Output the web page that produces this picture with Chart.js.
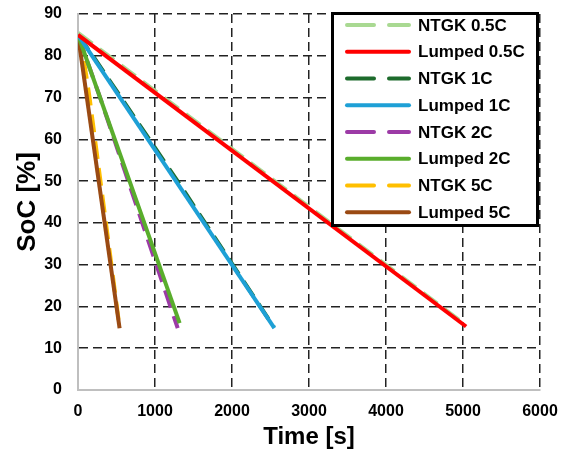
<!DOCTYPE html>
<html>
<head>
<meta charset="utf-8">
<script src="https://cdn.jsdelivr.net/npm/chart.js@4"></script>
<style>
  html, body { margin: 0; padding: 0; background: #fff; }
</style>
</head>
<body>
<canvas id="socChart" width="562" height="449"></canvas>
<script>
const labels = ["NTGK 0.5C", "Lumped 0.5C", "NTGK 1C", "Lumped 1C", "NTGK 2C", "Lumped 2C", "NTGK 5C", "Lumped 5C"];
const colors = ["#a9d992", "#ff0000", "#1d6b2c", "#1ea0d6", "#9c3aa6", "#59ad2c", "#ffbf00", "#9a4a13"];

// time [s] and SoC [%]
const ntgk05Time = [0, 5040];
const ntgk05Soc = [85.5, 15.5];
const lumped05Time = [0, 5040];
const lumped05Soc = [85, 15.2];
const ntgk1Time = [0, 200, 1300, 2545];
const ntgk1Soc = [85, 79.8, 49.8, 15];
const lumped1Time = [0, 2550];
const lumped1Soc = [85, 14.8];
const ntgk2Time = [0, 300, 1295];
const ntgk2Soc = [85, 69.3, 14.8];
const lumped2Time = [0, 1320];
const lumped2Soc = [85, 16];
const ntgk5Time = [0, 40, 150, 540];
const ntgk5Soc = [85, 83.5, 70, 15];
const lumped5Time = [0, 540];
const lumped5Soc = [85, 14.8];

const xTicks = [0, 1000, 2000, 3000, 4000, 5000, 6000];
const yTicks = [0, 10, 20, 30, 40, 50, 60, 70, 80, 90];

const times = [ntgk05Time, lumped05Time, ntgk1Time, lumped1Time, ntgk2Time, lumped2Time, ntgk5Time, lumped5Time];
const socs = [ntgk05Soc, lumped05Soc, ntgk1Soc, lumped1Soc, ntgk2Soc, lumped2Soc, ntgk5Soc, lumped5Soc];

const FONT = "'Liberation Sans', Arial, sans-serif";

const datasets = labels.map((label, i) => {
    const dashed = label.startsWith("NTGK");
    return {
        label: label,
        data: times[i].map((t, j) => ({ x: t, y: socs[i][j] })),
        borderColor: colors[i],
        backgroundColor: colors[i],
        borderWidth: 4,
        borderDash: dashed ? [18, 9] : [],
        showLine: true,
        pointRadius: 0,
        tension: 0,
        order: dashed ? 1 : 0,
    };
});

const legendBox = {
    id: "legendBox",
    afterDraw(chart) {
        const c = chart.ctx;
        c.save();
        c.fillStyle = "#fff";
        c.fillRect(332, 13, 206, 213);
        c.lineWidth = 3;
        c.strokeStyle = "#000";
        c.strokeRect(332.5, 13.5, 205, 212);
        chart.data.datasets.forEach((ds, i) => {
            const y = 25 + i * 26.76;
            c.lineWidth = 4;
            c.lineCap = "round";
            c.strokeStyle = ds.borderColor;
            c.setLineDash(ds.borderDash.length ? [27, 15] : []);
            c.beginPath();
            c.moveTo(347, y);
            c.lineTo(409, y);
            c.stroke();
            c.setLineDash([]);
            c.fillStyle = "#000";
            c.font = "bold 17px " + FONT;
            c.textBaseline = "middle";
            c.fillText(ds.label, 418, y + 1);
        });
        c.restore();
    },
};

const gridColor = (ctx) => (ctx.tick && ctx.tick.value === 0 ? "rgba(0,0,0,0)" : "#222");

new Chart(document.getElementById("socChart"), {
    type: "scatter",
    data: { datasets: datasets },
    options: {
        responsive: false,
        animation: false,
        layout: { padding: { top: 14, right: 22, left: 0, bottom: 0 } },
        plugins: { legend: { display: false }, tooltip: { enabled: false } },
        scales: {
            x: {
                type: "linear",
                min: 0,
                max: 6000,
                afterBuildTicks: (s) => { s.ticks = xTicks.map((v) => ({ value: v })); },
                afterFit: (s) => {
                    s.height = 59;
                    s.paddingLeft = 0;
                    s.paddingRight = 0;
                },
                grid: { color: gridColor, lineWidth: 1.5, drawTicks: false },
                border: { color: "#bfbfbf", width: 2, dash: [9, 5] },
                ticks: {
                    color: "#000",
                    padding: 12,
                    maxRotation: 0,
                    callback: (v) => String(v),
                    font: { family: FONT, size: 16, weight: "bold" },
                },
                title: {
                    display: true,
                    text: "Time [s]",
                    color: "#000",
                    padding: { top: 0, bottom: 0 },
                    font: { family: FONT, size: 24, weight: "bold", lineHeight: 1 },
                },
            },
            y: {
                type: "linear",
                min: 0,
                max: 90,
                afterBuildTicks: (s) => { s.ticks = yTicks.map((v) => ({ value: v })); },
                afterFit: (s) => {
                    s.width = 78;
                    s.paddingTop = 0;
                    s.paddingBottom = 0;
                },
                grid: { color: gridColor, lineWidth: 1.5, drawTicks: false },
                border: { color: "#bfbfbf", width: 2, dash: [9, 5] },
                ticks: {
                    color: "#000",
                    padding: 16,
                    callback: (v) => String(v),
                    font: { family: FONT, size: 16, weight: "bold" },
                },
                title: {
                    display: true,
                    text: "SoC [%]",
                    color: "#000",
                    padding: { top: 12, bottom: 0 },
                    font: { family: FONT, size: 26, weight: "bold", lineHeight: 1.2 },
                },
            },
        },
    },
    plugins: [legendBox],
});
</script>
</body>
</html>
